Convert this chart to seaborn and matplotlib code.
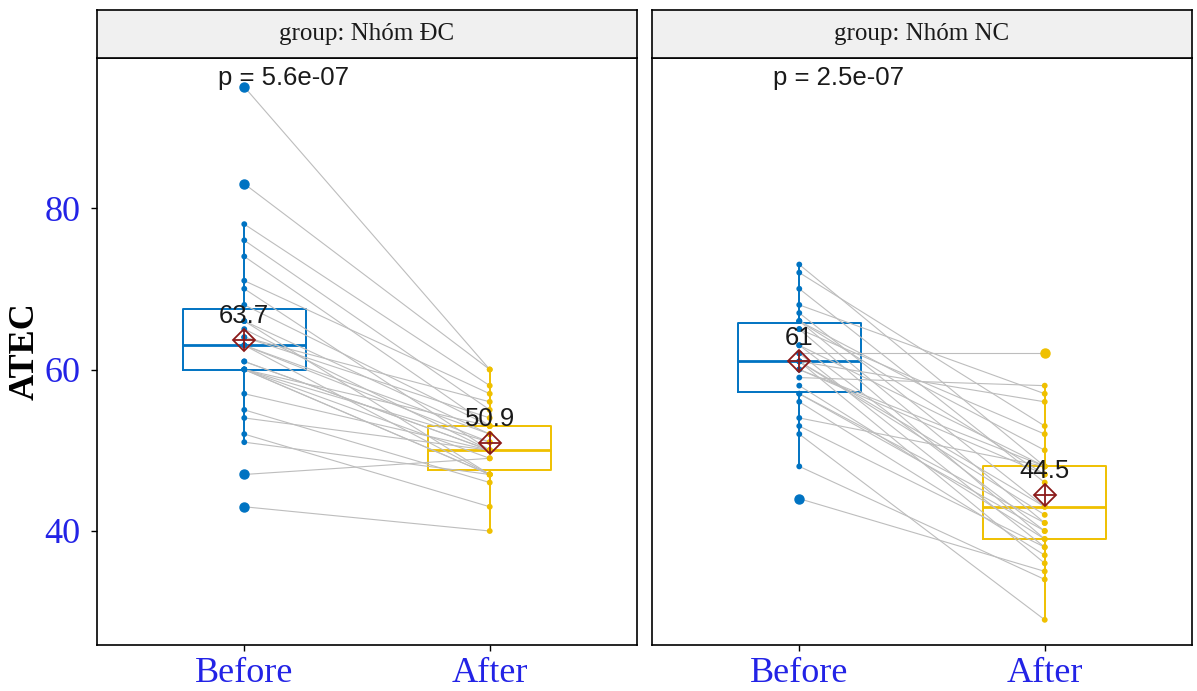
import numpy as np
import pandas as pd
import matplotlib
matplotlib.use("Agg")
import matplotlib.pyplot as plt
import seaborn as sns

# ---------------- data ----------------
groups = ["Nhóm ĐC", "Nhóm NC"]
times = ["Before", "After"]
p_labels = ["p = 5.6e-07", "p = 2.5e-07"]

dc_before = [95, 83, 78, 76, 74, 71, 70, 68, 66, 66, 65, 64, 64, 63, 63,
             63, 61, 61, 60, 60, 60, 60, 60, 57, 55, 54, 52, 51, 47, 43]
dc_after = [60, 60, 58, 55, 53, 57, 50, 53, 52, 47, 50, 54, 56, 51, 47,
            52, 50, 50, 53, 47, 51, 47, 49, 50, 46, 50, 43, 47, 49, 40]

nc_before = [73, 72, 70, 68, 67, 66, 66, 66, 65, 65, 63, 63, 62, 62, 61,
             61, 61, 61, 60, 60, 59, 58, 57, 57, 56, 54, 53, 52, 48, 44]
nc_after = [48, 53, 46, 57, 43, 50, 41, 47, 52, 39, 48, 40, 62, 38, 56,
            42, 43, 36, 47, 48, 58, 39, 41, 40, 37, 48, 38, 29, 34, 35]

rows = []
for g, bef, aft in [(groups[0], dc_before, dc_after), (groups[1], nc_before, nc_after)]:
    for i, (b, a) in enumerate(zip(bef, aft)):
        rows.append({"id": f"{g}-{i}", "group": g, "time": "Before", "value": b})
        rows.append({"id": f"{g}-{i}", "group": g, "time": "After", "value": a})
df = pd.DataFrame(rows)
df["xpos"] = df["time"].map({t: k for k, t in enumerate(times)})

# ---------------- style ----------------
sns.set_theme(style="white")
plt.rcParams["font.family"] = ["Liberation Serif", "DejaVu Serif"]

palette = {"Before": "#0073C2", "After": "#EFC000"}
tick_blue = "#2323E6"
W, H = 1197, 691
fig = plt.figure(figsize=(W / 100, H / 100), dpi=100)

panel_x = [97, 652]
panel_w = 540
top_px, bot_px = 58, 645
strip_top = 10
sans = ["Liberation Sans", "DejaVu Sans"]

for k, g in enumerate(groups):
    x0 = panel_x[k] / W
    ax = fig.add_axes([x0, (H - bot_px) / H, panel_w / W, (bot_px - top_px) / H])
    sub = df[df["group"] == g]

    sns.boxplot(data=sub, x="time", y="value", hue="time", order=times,
                hue_order=times, palette=palette, fill=False, width=0.5,
                linewidth=1.4, showcaps=False, legend=False, ax=ax,
                flierprops={"marker": "o", "markersize": 6.5},
                medianprops={"linewidth": 2.0}, zorder=1)
    for ln in ax.lines:
        if ln.get_marker() not in (None, "None", "") and ln.get_linestyle() in ("None", "none", ""):
            ln.set_markerfacecolor(ln.get_markeredgecolor())
            ln.set_zorder(4)

    sns.lineplot(data=sub, x="xpos", y="value", units="id", estimator=None,
                 color="#BDBDBD", linewidth=0.8, ax=ax, zorder=2)

    sns.stripplot(data=sub, x="time", y="value", hue="time", order=times,
                  hue_order=times, palette=palette, jitter=False, size=4.2,
                  legend=False, ax=ax, zorder=3)

    means = sub.groupby("time")["value"].mean().reindex(times)
    sns.pointplot(data=sub, x="time", y="value", order=times, estimator="mean",
                  errorbar=None, linestyle="none", marker="D", color="#8B1A1A",
                  markerfacecolor="none", markeredgewidth=1.3, markersize=11.5,
                  ax=ax, zorder=5)
    sns.pointplot(data=sub, x="time", y="value", order=times, estimator="mean",
                  errorbar=None, linestyle="none", marker="+", color="#8B1A1A",
                  markeredgewidth=1.3, markersize=16, ax=ax, zorder=5)
    for j, t in enumerate(times):
        m = means[t]
        lab = f"{m:.0f}" if abs(m - round(m)) < 0.05 else f"{m:.1f}"
        ax.annotate(lab, xy=(j, m), xytext=(0, 17), textcoords="offset points",
                    ha="center", va="center", fontsize=18.5, family=sans,
                    color="#1a1a1a", zorder=6)

    ax.text(-0.109, 96.1, p_labels[k], ha="left", va="center", fontsize=18.5,
            family=sans, color="#1a1a1a")

    ax.set_xlim(-0.6, 1.6)
    ax.set_ylim(25.88, 98.58)
    ax.set_yticks([40, 60, 80])
    ax.set_xlabel("")
    for sp in ax.spines.values():
        sp.set_visible(True)
        sp.set_color("black")
        sp.set_linewidth(1.2)
    ax.tick_params(axis="x", length=4, width=1, color="black", labelsize=26,
                   labelcolor=tick_blue, pad=5, bottom=True)
    if k == 0:
        ax.tick_params(axis="y", length=4, width=1, color="black", labelsize=26,
                       labelcolor=tick_blue, pad=8, left=True)
        ax.set_ylabel("ATEC", fontsize=26, fontweight="bold", color="black")
        ax.yaxis.set_label_coords(-0.102, 0.5)
    else:
        ax.set_ylabel("")
        ax.tick_params(axis="y", left=False, labelleft=False)
    ax.grid(False)

    # facet strip
    sax = fig.add_axes([x0, (H - top_px) / H, panel_w / W, (top_px - strip_top) / H])
    sax.set_facecolor("#F0F0F0")
    sax.set_xticks([])
    sax.set_yticks([])
    for sp in sax.spines.values():
        sp.set_visible(True)
        sp.set_color("black")
        sp.set_linewidth(1.2)
    sax.text(0.5, 0.5, f"group: {g}", ha="center", va="center", fontsize=18,
             color="#1a1a1a", transform=sax.transAxes)

fig.savefig("out.png", dpi=100)
